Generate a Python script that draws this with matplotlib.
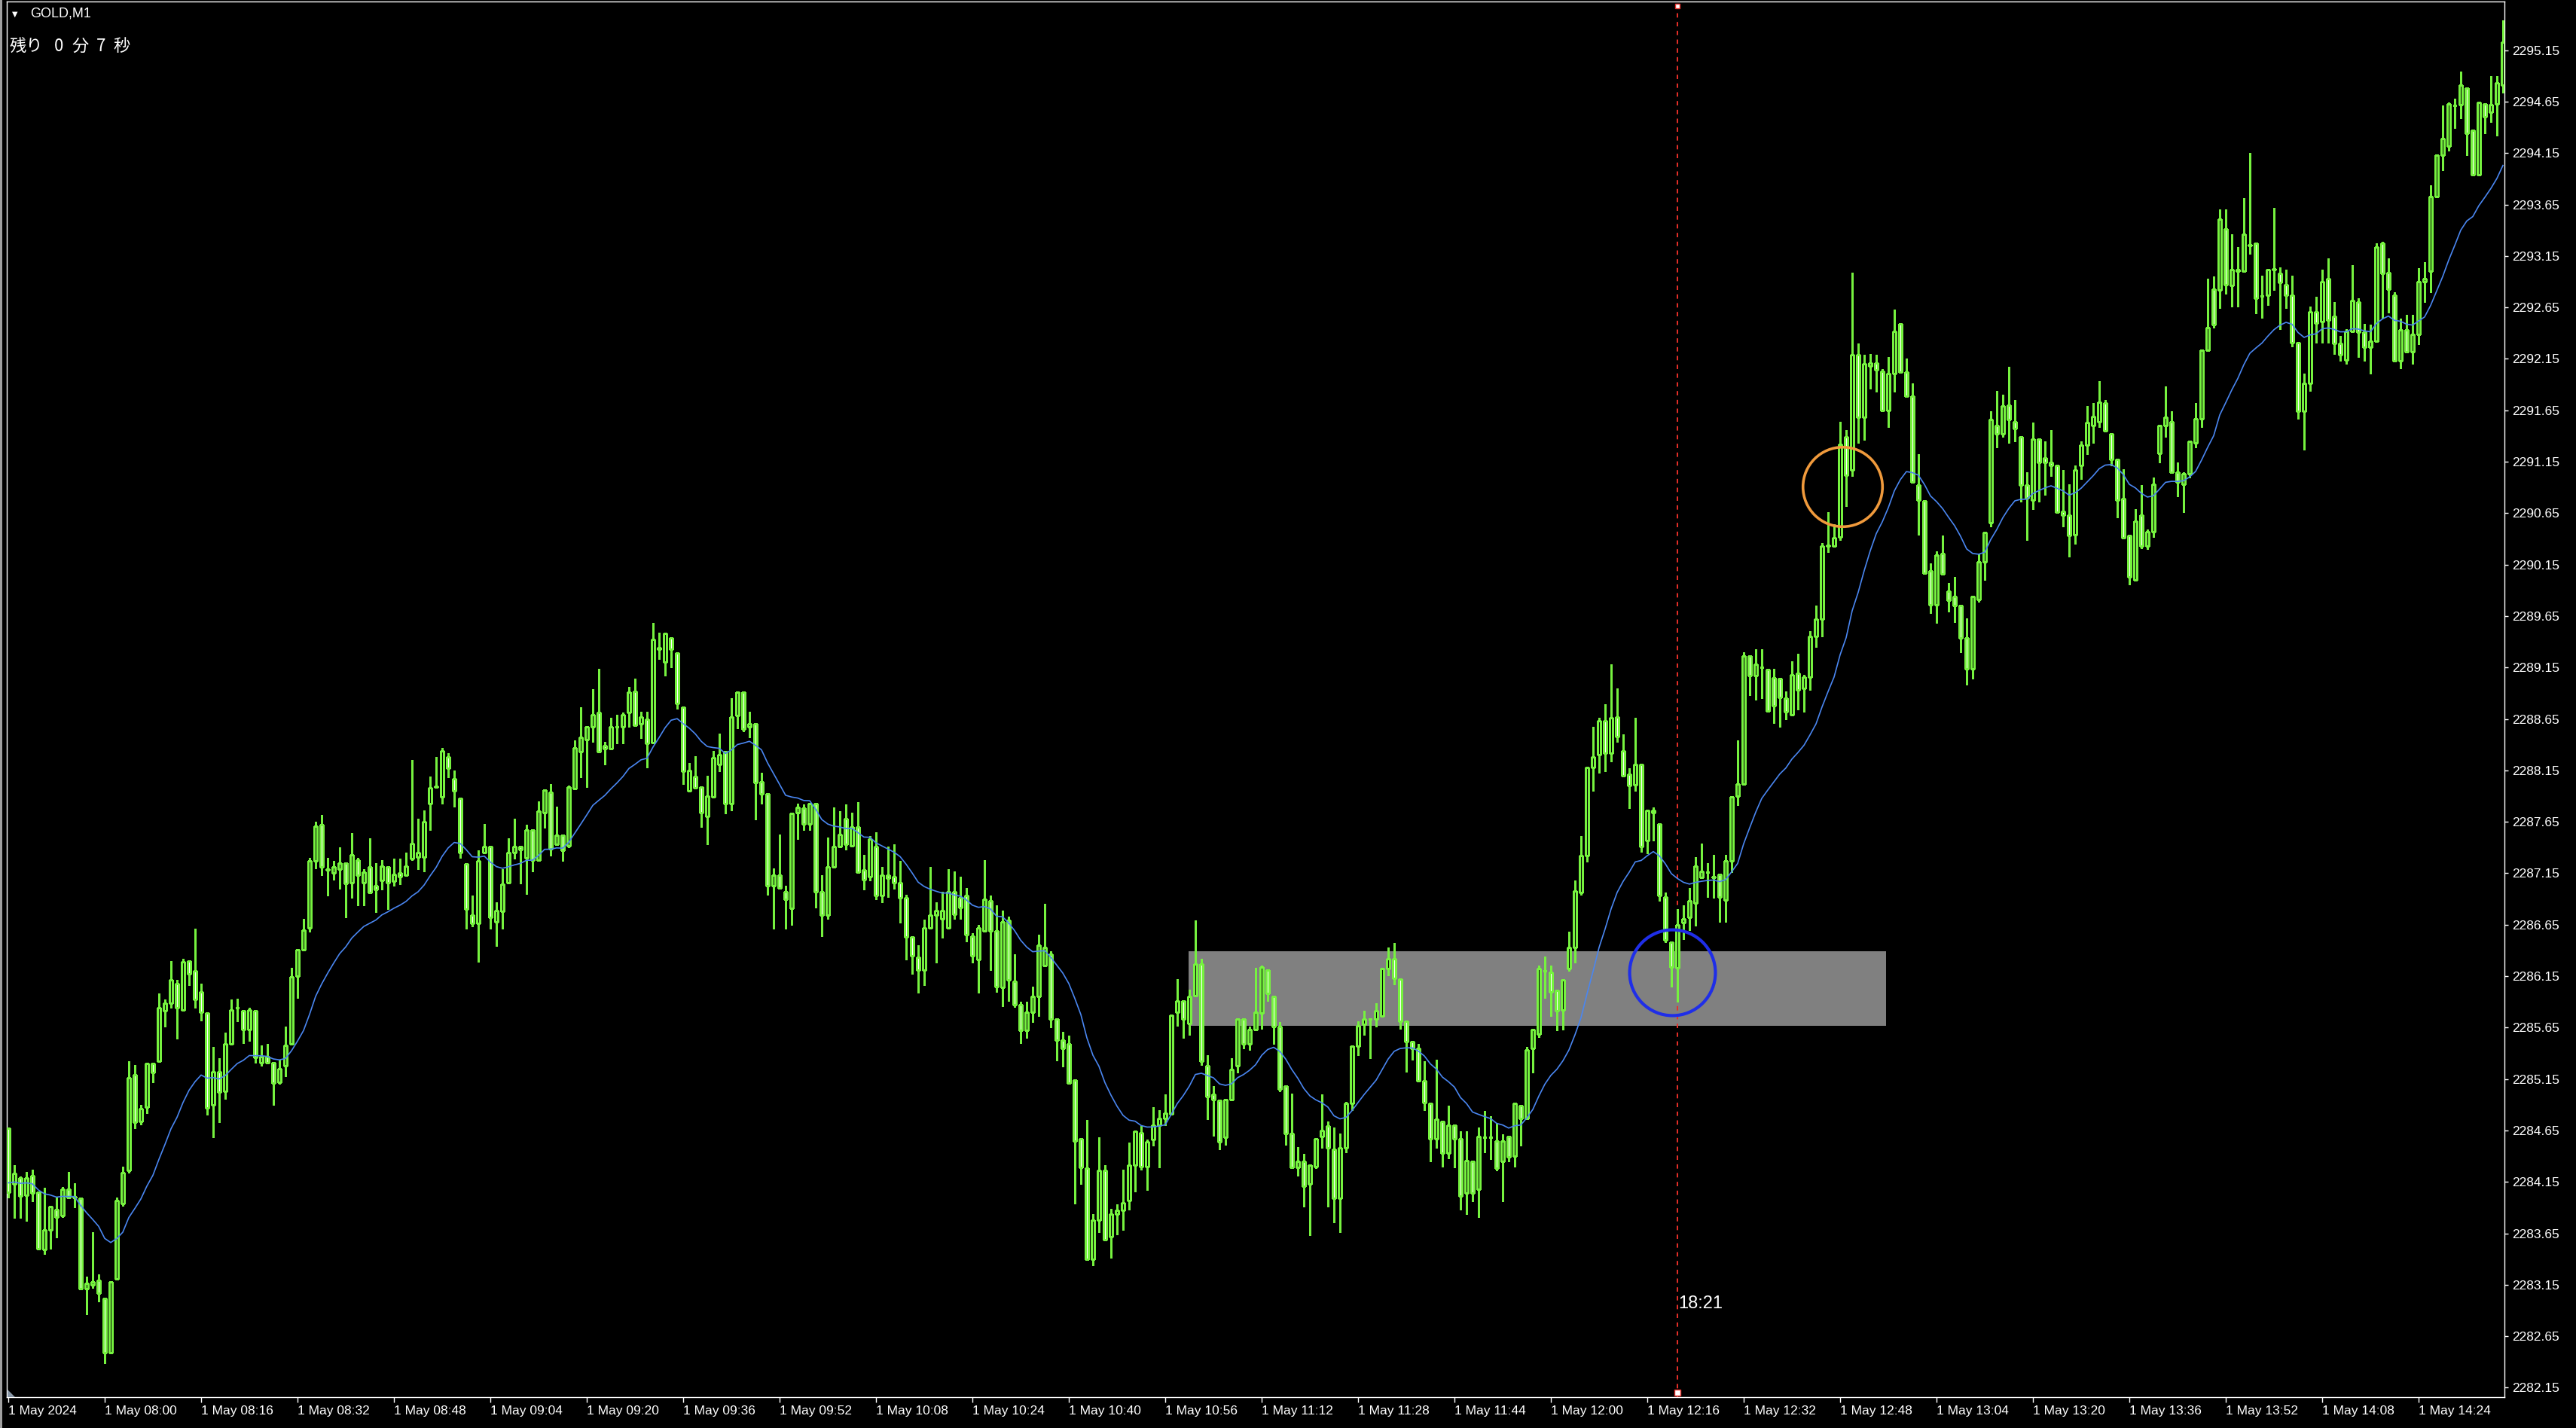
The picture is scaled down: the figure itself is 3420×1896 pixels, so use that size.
import numpy as np
import pandas as pd
import matplotlib
matplotlib.use('Agg')
import matplotlib.pyplot as plt
from matplotlib.patches import Rectangle, Polygon
from matplotlib.transforms import blended_transform_factory

# GOLD M1, one bar per minute from 07:44
opens = [
    2284.67, 2284.13, 2284.19, 2284.02, 2284.21, 2284.05, 2283.49, 2283.68, 2283.88, 2283.82,
    2284.08, 2284.00, 2283.99, 2283.11, 2283.15, 2283.19, 2283.02, 2282.49, 2283.21, 2283.94,
    2284.26, 2285.19, 2284.74, 2284.88, 2285.30, 2285.32, 2285.81, 2285.89, 2286.08, 2285.82,
    2286.30, 2286.20, 2286.00, 2285.79, 2284.90, 2285.22, 2285.03, 2285.49, 2285.84, 2285.81,
    2285.63, 2285.81, 2285.31, 2285.37, 2285.31, 2285.12, 2285.28, 2285.49, 2286.15, 2286.41,
    2286.62, 2287.27, 2287.62, 2287.19, 2287.15, 2287.19, 2287.25, 2287.06, 2287.28, 2287.06,
    2287.21, 2287.03, 2287.08, 2287.21, 2287.07, 2287.15, 2287.13, 2287.29, 2287.31, 2287.31,
    2287.83, 2287.99, 2287.89, 2288.28, 2288.07, 2287.88, 2287.24, 2286.74, 2286.66, 2287.35,
    2287.41, 2286.68, 2286.78, 2287.06, 2287.35, 2287.41, 2287.30, 2287.57, 2287.28, 2287.74,
    2287.94, 2287.43, 2287.52, 2287.42, 2287.97, 2288.33, 2288.45, 2288.57, 2288.71, 2288.39,
    2288.36, 2288.57, 2288.57, 2288.71, 2288.92, 2288.60, 2288.65, 2288.42, 2289.34, 2289.20,
    2289.44, 2289.29, 2288.76, 2287.95, 2288.09, 2287.99, 2287.70, 2287.89, 2288.21, 2288.33,
    2287.83, 2288.68, 2288.91, 2288.57, 2288.60, 2288.04, 2287.92, 2287.03, 2287.13, 2286.97,
    2286.81, 2287.74, 2287.78, 2287.63, 2287.83, 2286.97, 2286.74, 2287.21, 2287.41, 2287.68,
    2287.42, 2287.60, 2287.18, 2287.12, 2287.41, 2286.93, 2287.13, 2287.12, 2287.06, 2286.91,
    2286.53, 2286.33, 2286.21, 2286.62, 2286.74, 2286.71, 2286.62, 2286.97, 2286.91, 2286.93,
    2286.54, 2286.31, 2286.59, 2286.88, 2286.59, 2286.04, 2286.69, 2286.10, 2285.87, 2285.62,
    2285.80, 2285.95, 2286.25, 2286.36, 2285.73, 2285.53, 2285.49, 2285.14, 2284.57, 2284.28,
    2283.40, 2283.78, 2284.26, 2283.62, 2283.84, 2283.87, 2283.97, 2284.31, 2284.63, 2284.30,
    2284.56, 2284.70, 2284.77, 2284.81, 2285.80, 2285.91, 2285.69, 2285.96, 2286.27, 2285.28,
    2285.00, 2284.94, 2284.58, 2284.95, 2285.28, 2285.73, 2285.49, 2285.63, 2285.79, 2286.21,
    2285.95, 2285.66, 2285.08, 2284.62, 2284.29, 2284.35, 2284.13, 2284.30, 2284.59, 2284.69,
    2284.47, 2283.99, 2284.48, 2284.91, 2285.47, 2285.68, 2285.73, 2285.73, 2285.76, 2286.22,
    2286.32, 2286.12, 2285.71, 2285.51, 2285.45, 2285.13, 2284.91, 2284.57, 2284.74, 2284.43,
    2284.70, 2284.57, 2284.04, 2284.35, 2284.08, 2284.58, 2284.58, 2284.55, 2284.35, 2284.59,
    2284.40, 2284.89, 2284.77, 2285.45, 2285.59, 2286.20, 2286.19, 2286.01, 2285.82, 2286.22,
    2286.43, 2286.96, 2287.32, 2288.18, 2288.30, 2288.63, 2288.32, 2288.67, 2288.34, 2288.11,
    2288.01, 2288.21, 2287.47, 2287.76, 2287.63, 2286.92, 2286.48, 2286.23, 2286.67, 2286.72,
    2286.86, 2287.11, 2287.16, 2287.11, 2287.14, 2286.89, 2287.27, 2287.90, 2288.02, 2289.26,
    2289.07, 2289.15, 2289.13, 2289.05, 2289.04, 2288.85, 2288.69, 2289.09, 2288.95, 2289.06,
    2289.45, 2289.62, 2290.33, 2290.33, 2290.42, 2291.39, 2291.07, 2292.19, 2291.58, 2292.08,
    2292.11, 2292.03, 2291.65, 2292.01, 2292.49, 2292.02, 2291.79, 2290.92, 2290.77, 2290.09,
    2289.76, 2290.26, 2289.89, 2289.84, 2289.75, 2289.44, 2289.14, 2289.81, 2290.18, 2290.56,
    2291.50, 2291.42, 2291.70, 2291.54, 2291.39, 2290.92, 2290.78, 2291.37, 2291.19, 2291.14,
    2291.11, 2290.67, 2290.63, 2290.44, 2291.11, 2291.31, 2291.50, 2291.54, 2291.72, 2291.42,
    2291.17, 2290.79, 2290.43, 2290.00, 2290.63, 2290.33, 2290.47, 2291.23, 2291.50, 2291.54,
    2291.05, 2290.93, 2291.03, 2291.33, 2291.57, 2292.23, 2292.83, 2292.82, 2293.41, 2292.86,
    2293.00, 2293.00, 2293.25, 2293.27, 2292.76, 2292.77, 2293.02, 2292.98, 2292.87, 2292.77,
    2292.31, 2291.64, 2291.91, 2292.61, 2292.51, 2292.93, 2292.56, 2292.30, 2292.14, 2292.42,
    2292.70, 2292.41, 2292.26, 2292.32, 2293.27, 2292.99, 2292.77, 2292.13, 2292.43, 2292.22,
    2292.39, 2292.90, 2293.00, 2293.73, 2294.13, 2294.22, 2294.61, 2294.62, 2294.78, 2294.37,
    2293.94, 2294.63, 2294.55, 2294.63, 2294.81,
]
highs = [
    2284.68, 2284.31, 2284.20, 2284.25, 2284.27, 2284.05, 2284.09, 2283.91, 2284.00, 2284.10,
    2284.25, 2284.14, 2284.00, 2283.23, 2283.66, 2283.25, 2283.02, 2283.18, 2284.00, 2284.30,
    2285.32, 2285.29, 2284.90, 2285.30, 2285.30, 2285.98, 2285.92, 2286.30, 2286.11, 2286.32,
    2286.30, 2286.61, 2286.08, 2285.79, 2285.46, 2285.35, 2285.60, 2285.92, 2285.93, 2285.81,
    2285.84, 2285.81, 2285.48, 2285.49, 2285.31, 2285.34, 2285.66, 2286.23, 2286.41, 2286.71,
    2287.30, 2287.65, 2287.72, 2287.30, 2287.27, 2287.40, 2287.25, 2287.54, 2287.30, 2287.19,
    2287.49, 2287.25, 2287.28, 2287.22, 2287.29, 2287.29, 2287.35, 2288.25, 2287.68, 2287.76,
    2288.09, 2288.28, 2288.37, 2288.32, 2288.15, 2287.88, 2287.24, 2286.93, 2287.37, 2287.63,
    2287.41, 2286.87, 2287.19, 2287.49, 2287.68, 2287.41, 2287.62, 2287.57, 2287.85, 2287.96,
    2288.02, 2287.80, 2287.52, 2288.00, 2288.44, 2288.76, 2288.57, 2288.94, 2289.14, 2288.43,
    2288.66, 2288.69, 2288.71, 2288.96, 2289.04, 2288.72, 2288.72, 2289.58, 2289.49, 2289.48,
    2289.44, 2289.30, 2288.76, 2288.22, 2288.29, 2287.99, 2288.10, 2288.34, 2288.51, 2288.33,
    2288.85, 2288.92, 2288.92, 2288.72, 2288.60, 2288.13, 2287.92, 2287.20, 2287.53, 2287.03,
    2287.73, 2287.83, 2287.82, 2287.83, 2287.83, 2287.13, 2287.50, 2287.79, 2287.75, 2287.82,
    2287.74, 2287.84, 2287.33, 2287.51, 2287.55, 2287.21, 2287.41, 2287.43, 2287.27, 2286.94,
    2286.53, 2286.45, 2286.70, 2287.21, 2286.87, 2286.97, 2287.19, 2287.17, 2287.12, 2287.01,
    2286.57, 2286.65, 2287.28, 2286.93, 2286.84, 2286.79, 2286.73, 2286.36, 2285.90, 2285.90,
    2286.05, 2286.55, 2286.85, 2286.39, 2285.73, 2285.61, 2285.57, 2285.14, 2284.57, 2284.75,
    2283.84, 2284.58, 2284.31, 2283.89, 2283.93, 2284.27, 2284.53, 2284.64, 2284.69, 2284.56,
    2284.88, 2284.85, 2285.00, 2285.77, 2286.12, 2285.91, 2286.02, 2286.69, 2286.32, 2285.38,
    2285.08, 2284.94, 2284.95, 2285.35, 2285.74, 2285.74, 2285.66, 2286.23, 2286.25, 2286.21,
    2285.95, 2285.70, 2285.08, 2285.01, 2284.49, 2284.42, 2284.32, 2284.57, 2285.00, 2284.74,
    2284.68, 2284.62, 2284.93, 2285.47, 2285.71, 2285.81, 2285.73, 2285.89, 2286.22, 2286.43,
    2286.47, 2286.12, 2285.71, 2285.51, 2285.49, 2285.32, 2284.91, 2285.34, 2284.74, 2284.89,
    2284.70, 2284.64, 2284.64, 2284.35, 2284.68, 2284.84, 2284.79, 2284.72, 2284.61, 2284.59,
    2284.91, 2284.89, 2285.46, 2285.63, 2286.25, 2286.34, 2286.25, 2286.01, 2286.11, 2286.58,
    2287.08, 2287.51, 2288.18, 2288.57, 2288.66, 2288.79, 2289.18, 2288.95, 2288.50, 2288.17,
    2288.66, 2288.21, 2287.76, 2287.79, 2287.63, 2286.96, 2286.48, 2286.80, 2286.84, 2287.01,
    2287.31, 2287.44, 2287.25, 2287.33, 2287.14, 2287.33, 2287.89, 2288.44, 2289.30, 2289.26,
    2289.33, 2289.33, 2289.13, 2289.14, 2289.04, 2288.92, 2289.21, 2289.28, 2289.08, 2289.50,
    2289.75, 2290.36, 2290.66, 2290.54, 2291.54, 2291.46, 2292.99, 2292.30, 2292.19, 2292.20,
    2292.19, 2292.05, 2292.17, 2292.63, 2292.49, 2292.15, 2291.91, 2291.22, 2290.77, 2290.16,
    2290.28, 2290.43, 2289.97, 2290.03, 2289.75, 2289.63, 2289.84, 2290.26, 2290.46, 2291.64,
    2291.84, 2291.80, 2292.07, 2291.75, 2291.39, 2291.05, 2291.53, 2291.37, 2291.35, 2291.46,
    2291.11, 2291.07, 2290.93, 2291.11, 2291.35, 2291.69, 2291.72, 2291.93, 2291.75, 2291.42,
    2291.17, 2291.08, 2290.43, 2290.69, 2290.92, 2290.49, 2291.00, 2291.50, 2291.88, 2291.64,
    2291.14, 2291.05, 2291.35, 2291.72, 2292.23, 2292.93, 2292.95, 2293.60, 2293.60, 2293.36,
    2293.24, 2293.71, 2294.15, 2293.27, 2292.96, 2293.02, 2293.62, 2293.04, 2293.02, 2292.96,
    2292.31, 2292.01, 2292.66, 2292.75, 2293.02, 2293.13, 2292.70, 2292.37, 2292.44, 2293.06,
    2292.74, 2292.49, 2292.48, 2293.27, 2293.29, 2293.13, 2292.80, 2292.54, 2292.58, 2292.58,
    2293.03, 2293.09, 2293.84, 2294.13, 2294.61, 2294.64, 2294.68, 2294.94, 2294.78, 2294.37,
    2294.65, 2294.63, 2294.90, 2294.90, 2295.44,
]
lows = [
    2284.00, 2283.80, 2283.80, 2283.77, 2283.96, 2283.50, 2283.45, 2283.50, 2283.61, 2283.81,
    2284.00, 2283.90, 2283.11, 2282.86, 2283.12, 2282.99, 2282.39, 2282.49, 2283.20, 2283.92,
    2284.24, 2284.67, 2284.71, 2284.82, 2285.12, 2285.32, 2285.66, 2285.84, 2285.54, 2285.82,
    2286.06, 2285.84, 2285.72, 2284.80, 2284.58, 2284.73, 2284.96, 2285.49, 2285.71, 2285.50,
    2285.52, 2285.31, 2285.28, 2285.31, 2284.90, 2285.10, 2285.18, 2285.49, 2285.94, 2286.40,
    2286.58, 2287.20, 2287.13, 2286.93, 2287.09, 2287.00, 2286.72, 2286.91, 2286.84, 2286.84,
    2286.96, 2286.77, 2286.99, 2286.80, 2287.03, 2287.04, 2287.13, 2287.28, 2287.19, 2287.17,
    2287.57, 2287.98, 2287.83, 2288.08, 2287.80, 2287.30, 2286.61, 2286.63, 2286.29, 2287.35,
    2286.61, 2286.44, 2286.61, 2287.06, 2287.29, 2287.05, 2286.95, 2287.17, 2287.28, 2287.59,
    2287.32, 2287.43, 2287.27, 2287.40, 2287.97, 2288.08, 2287.99, 2288.43, 2288.33, 2288.21,
    2288.36, 2288.41, 2288.41, 2288.57, 2288.59, 2288.46, 2288.18, 2288.42, 2289.23, 2289.07,
    2289.15, 2288.75, 2288.02, 2287.95, 2287.98, 2287.60, 2287.43, 2287.89, 2288.14, 2287.73,
    2287.76, 2288.56, 2288.53, 2288.47, 2287.67, 2287.83, 2286.94, 2286.61, 2287.01, 2286.61,
    2286.65, 2287.48, 2287.57, 2287.57, 2286.82, 2286.54, 2286.71, 2287.21, 2287.41, 2287.38,
    2287.42, 2287.16, 2286.99, 2287.08, 2286.90, 2286.87, 2286.92, 2287.00, 2286.67, 2286.31,
    2286.17, 2285.99, 2286.06, 2286.62, 2286.28, 2286.52, 2286.62, 2286.71, 2286.71, 2286.49,
    2286.28, 2285.99, 2286.59, 2286.21, 2286.00, 2285.86, 2285.91, 2285.85, 2285.50, 2285.55,
    2285.70, 2285.76, 2286.25, 2285.65, 2285.33, 2285.27, 2285.11, 2283.94, 2284.13, 2283.40,
    2283.34, 2283.66, 2283.59, 2283.41, 2283.64, 2283.68, 2283.88, 2284.06, 2284.27, 2284.07,
    2284.50, 2284.29, 2284.70, 2284.80, 2285.67, 2285.55, 2285.58, 2285.95, 2285.29, 2284.76,
    2284.60, 2284.47, 2284.51, 2284.95, 2285.21, 2285.45, 2285.43, 2285.63, 2285.64, 2285.91,
    2285.49, 2285.03, 2284.51, 2284.29, 2284.21, 2283.91, 2283.63, 2284.28, 2284.48, 2283.91,
    2283.76, 2283.66, 2284.44, 2284.85, 2285.38, 2285.58, 2285.35, 2285.66, 2285.76, 2286.16,
    2286.07, 2285.64, 2285.22, 2285.34, 2285.13, 2284.85, 2284.35, 2284.48, 2284.30, 2284.38,
    2284.29, 2283.88, 2283.84, 2283.96, 2283.81, 2284.44, 2284.37, 2284.26, 2283.96, 2284.35,
    2284.30, 2284.50, 2284.77, 2285.21, 2285.56, 2285.94, 2285.76, 2285.62, 2285.63, 2286.20,
    2286.28, 2286.94, 2287.26, 2287.95, 2288.13, 2288.14, 2288.24, 2288.43, 2288.10, 2287.78,
    2287.95, 2287.36, 2287.34, 2287.47, 2286.88, 2286.48, 2286.05, 2285.90, 2286.51, 2286.60,
    2286.64, 2287.11, 2286.92, 2286.91, 2286.68, 2286.68, 2287.16, 2287.81, 2288.02, 2288.88,
    2288.84, 2288.85, 2288.73, 2288.61, 2288.57, 2288.65, 2288.69, 2288.74, 2288.72, 2288.93,
    2289.35, 2289.45, 2290.27, 2290.33, 2290.39, 2290.72, 2291.01, 2291.33, 2291.36, 2291.86,
    2291.83, 2291.65, 2291.49, 2291.83, 2292.02, 2291.79, 2290.95, 2290.44, 2290.07, 2289.68,
    2289.58, 2290.06, 2289.69, 2289.59, 2289.30, 2288.98, 2289.04, 2289.79, 2290.00, 2290.52,
    2291.29, 2291.39, 2291.33, 2291.35, 2290.76, 2290.39, 2290.69, 2290.76, 2290.83, 2291.01,
    2290.66, 2290.52, 2290.23, 2290.35, 2290.98, 2291.22, 2291.33, 2291.49, 2291.45, 2291.11,
    2290.61, 2290.41, 2289.96, 2290.00, 2290.31, 2290.30, 2290.42, 2291.14, 2291.39, 2291.04,
    2290.81, 2290.66, 2291.00, 2291.29, 2291.49, 2292.23, 2292.45, 2292.64, 2292.78, 2292.66,
    2292.66, 2293.00, 2293.17, 2292.59, 2292.55, 2292.67, 2292.82, 2292.44, 2292.64, 2292.27,
    2291.57, 2291.27, 2291.84, 2292.31, 2292.31, 2292.31, 2292.20, 2292.13, 2292.10, 2292.42,
    2292.17, 2292.13, 2292.01, 2292.32, 2292.55, 2292.60, 2292.13, 2292.06, 2292.22, 2292.10,
    2292.29, 2292.70, 2292.80, 2293.73, 2293.98, 2294.17, 2294.39, 2294.49, 2294.13, 2293.94,
    2293.93, 2294.34, 2294.45, 2294.32, 2294.74,
]
closes = [
    2284.05, 2284.23, 2284.01, 2284.19, 2284.04, 2283.50, 2283.68, 2283.91, 2283.81, 2284.08,
    2284.00, 2284.00, 2283.11, 2283.16, 2283.18, 2283.07, 2282.49, 2283.18, 2283.97, 2284.24,
    2285.16, 2284.73, 2284.86, 2285.30, 2285.21, 2285.84, 2285.89, 2286.11, 2285.84, 2286.29,
    2286.17, 2285.92, 2285.80, 2284.87, 2285.22, 2285.02, 2285.49, 2285.82, 2285.84, 2285.63,
    2285.82, 2285.36, 2285.37, 2285.31, 2285.11, 2285.25, 2285.48, 2286.14, 2286.41, 2286.60,
    2287.27, 2287.61, 2287.21, 2287.18, 2287.21, 2287.25, 2287.05, 2287.33, 2287.13, 2287.16,
    2286.96, 2286.99, 2287.22, 2287.06, 2287.14, 2287.12, 2287.22, 2287.44, 2287.35, 2287.65,
    2287.98, 2287.99, 2288.34, 2288.17, 2287.95, 2287.35, 2286.80, 2286.66, 2287.27, 2287.41,
    2286.72, 2286.79, 2287.04, 2287.35, 2287.41, 2287.38, 2287.57, 2287.28, 2287.75, 2287.96,
    2287.39, 2287.52, 2287.37, 2287.99, 2288.37, 2288.47, 2288.57, 2288.69, 2288.33, 2288.36,
    2288.57, 2288.57, 2288.69, 2288.91, 2288.59, 2288.67, 2288.41, 2289.42, 2289.33, 2289.48,
    2289.33, 2288.80, 2288.14, 2288.15, 2287.98, 2287.74, 2287.90, 2288.27, 2288.30, 2287.83,
    2288.67, 2288.91, 2288.55, 2288.60, 2288.03, 2287.92, 2287.03, 2287.13, 2287.01, 2286.90,
    2287.73, 2287.79, 2287.63, 2287.83, 2286.97, 2286.74, 2287.21, 2287.41, 2287.53, 2287.43,
    2287.60, 2287.16, 2287.09, 2287.48, 2286.93, 2287.13, 2287.10, 2287.06, 2286.91, 2286.53,
    2286.35, 2286.21, 2286.62, 2286.74, 2286.79, 2286.79, 2286.97, 2286.75, 2286.82, 2286.55,
    2286.35, 2286.62, 2286.90, 2286.59, 2286.05, 2286.68, 2286.11, 2285.87, 2285.62, 2285.80,
    2285.95, 2286.45, 2286.43, 2285.73, 2285.53, 2285.45, 2285.11, 2284.55, 2284.29, 2283.40,
    2283.78, 2284.26, 2283.59, 2283.84, 2283.87, 2283.95, 2284.31, 2284.64, 2284.30, 2284.54,
    2284.70, 2284.77, 2284.82, 2285.77, 2285.91, 2285.73, 2285.95, 2286.27, 2285.32, 2284.98,
    2284.95, 2284.54, 2284.95, 2285.24, 2285.73, 2285.49, 2285.63, 2285.80, 2286.24, 2285.98,
    2285.66, 2285.05, 2284.62, 2284.29, 2284.35, 2284.11, 2284.31, 2284.57, 2284.65, 2284.48,
    2283.99, 2284.48, 2284.91, 2285.47, 2285.67, 2285.73, 2285.73, 2285.81, 2286.22, 2286.32,
    2286.13, 2285.71, 2285.51, 2285.45, 2285.13, 2284.92, 2284.57, 2284.76, 2284.43, 2284.70,
    2284.57, 2284.01, 2284.36, 2284.04, 2284.59, 2284.58, 2284.58, 2284.28, 2284.55, 2284.39,
    2284.91, 2284.77, 2285.43, 2285.63, 2286.22, 2286.20, 2286.00, 2285.81, 2286.11, 2286.43,
    2286.98, 2287.32, 2288.18, 2288.28, 2288.63, 2288.32, 2288.66, 2288.48, 2288.10, 2288.00,
    2288.21, 2287.41, 2287.76, 2287.74, 2286.93, 2286.50, 2286.24, 2286.65, 2286.71, 2286.88,
    2287.22, 2287.17, 2287.16, 2287.12, 2286.92, 2287.27, 2287.89, 2288.02, 2289.26, 2289.07,
    2289.18, 2289.15, 2288.73, 2288.78, 2288.86, 2288.72, 2289.08, 2288.93, 2289.06, 2289.45,
    2289.62, 2290.33, 2290.33, 2290.41, 2291.32, 2291.02, 2292.19, 2291.58, 2292.10, 2292.11,
    2292.04, 2291.65, 2292.01, 2292.42, 2292.02, 2291.79, 2290.95, 2290.78, 2290.07, 2289.76,
    2290.24, 2290.06, 2289.80, 2289.75, 2289.44, 2289.14, 2289.84, 2290.18, 2290.46, 2291.56,
    2291.42, 2291.69, 2291.56, 2291.47, 2290.92, 2290.80, 2291.37, 2291.14, 2291.14, 2291.11,
    2290.66, 2290.63, 2290.43, 2291.07, 2291.31, 2291.53, 2291.59, 2291.73, 2291.45, 2291.17,
    2290.78, 2290.41, 2290.03, 2290.57, 2290.33, 2290.47, 2290.93, 2291.50, 2291.58, 2291.05,
    2290.95, 2291.03, 2291.35, 2291.57, 2292.23, 2292.45, 2292.48, 2293.51, 2292.87, 2293.02,
    2293.02, 2293.36, 2293.26, 2292.74, 2292.76, 2293.02, 2293.02, 2292.89, 2292.77, 2292.31,
    2291.64, 2291.91, 2292.61, 2292.50, 2292.90, 2292.53, 2292.30, 2292.19, 2292.42, 2292.72,
    2292.41, 2292.26, 2292.32, 2293.24, 2292.98, 2292.83, 2292.13, 2292.43, 2292.22, 2292.39,
    2292.90, 2292.93, 2293.73, 2294.13, 2294.29, 2294.63, 2294.61, 2294.81, 2294.34, 2293.94,
    2294.64, 2294.50, 2294.62, 2294.83, 2295.23,
]

first_bar = '2024-05-01 07:44'
ma_span = 20
ma_first = 2284.15          # MA level at the left edge
price_ticks = np.arange(2282.15, 2295.16, 0.5)

zone_low, zone_high = 2285.67, 2286.39
zone_left, zone_right = 195.9, 311.6     # in bars
cursor_bar = 277
cursor_text = '18:21'
blue_ring = (276.1, 2286.19)
orange_ring = (304.4, 2290.91)

# countdown pieces and their left pixel positions
countdown = ['残り', '0', '分', '7', '秒']
countdown_px = [12, 72, 95, 128, 150]

green = '#76f23f'
W, H = 3420, 1896

plt.rcParams['font.family'] = ['Liberation Sans', 'Noto Sans CJK JP', 'DejaVu Sans']

o = np.array(opens); h = np.array(highs); l = np.array(lows); c = np.array(closes)
x = np.arange(len(c))
times = pd.date_range(first_bar, periods=len(c), freq='min')

fig = plt.figure(figsize=(W / 100, H / 100), dpi=100, facecolor='black')
ax = fig.add_axes([9 / W, 41 / H, 3316 / W, 1853 / H])
ax.set_facecolor('black')
ax.set_xlim(-0.25, 414.25)
ax.set_ylim(2282.058, 2295.623)

# zone + cursor line
ax.add_patch(Rectangle((zone_left, zone_low), zone_right - zone_left, zone_high - zone_low,
                       facecolor='#808080', lw=0, zorder=1))
ax.axvline(cursor_bar, color='#e8302a', lw=1.4, ls=(0, (3, 3)), zorder=2)

# candles
up = c >= o
ax.vlines(x, l, h, color=green, lw=1.0, zorder=3, antialiased=False)
ax.bar(x, np.maximum(np.abs(c - o), 0.004), bottom=np.minimum(o, c), width=0.5,
       color=np.where(up, 'black', 'white'), edgecolor=green, linewidth=1.0,
       zorder=4, antialiased=False)

# moving average
ma = pd.Series(np.r_[ma_first, c]).ewm(span=ma_span, adjust=False).mean().to_numpy()[1:]
ax.plot(x, ma, color='#4a86f0', lw=1.2, zorder=5)

# circles
ax.plot(*blue_ring, marker='o', ms=82, mfc='none', mec='#1f2ee8', mew=3.0, zorder=6)
ax.plot(*orange_ring, marker='o', ms=76, mfc='none', mec='#f09a3c', mew=2.6, zorder=6)

tr = blended_transform_factory(ax.transData, ax.transAxes)
ax.text(cursor_bar + 0.1, 0.067, cursor_text, transform=tr, color='white', fontsize=17,
        ha='left', va='center')
ax.plot([cursor_bar], [0.003], transform=tr, marker='s', ms=6, mfc='white', mec='#e8302a',
        mew=1, clip_on=False, zorder=7)
ax.plot([cursor_bar], [0.997], transform=tr, marker='s', ms=4, mfc='white', mec='#e8302a',
        mew=1, clip_on=False, zorder=7)

# axes look
for s in ax.spines.values():
    s.set_color('white')
    s.set_linewidth(1.0)
ax.yaxis.tick_right()
ax.set_yticks(price_ticks)
ax.set_yticklabels([f'{v:.2f}' for v in price_ticks])
ax.tick_params(axis='y', colors='white', length=3.6, width=1, pad=3.6, labelsize=12.5)

tick_idx = x[::16]
tick_lab = ['1 May 2024' if i == 0 else f'1 May {times[i]:%H:%M}' for i in tick_idx]
ax.set_xticks(tick_idx)
ax.set_xticklabels(tick_lab)
ax.tick_params(axis='x', colors='white', length=5, width=1, pad=3, labelsize=12.5)
for t in ax.get_xticklabels():
    t.set_ha('left')

# header text
fig.text(16 / W, 1 - 19 / H, '▼', color='white', fontsize=7, va='center', family='DejaVu Sans')
fig.text(40 / W, 1 - 18 / H, 'GOLD,M1', color='white', fontsize=13, va='center')
for txt, px in zip(countdown, countdown_px):
    fig.text(px / W, 1 - 61 / H, txt, color='white', fontsize=16, va='center',
             family=['Noto Sans CJK JP', 'DejaVu Sans'])

# window edge + shift marker
fig.patches.append(Rectangle((0, 0), 3 / W, 1, transform=fig.transFigure,
                             facecolor='#a0a0a0', lw=0))
fig.patches.append(Polygon([(10 / W, 41 / H), (10 / W, 51 / H), (20 / W, 41 / H)],
                           closed=True, transform=fig.transFigure, facecolor='#8a98a8', lw=0))

fig.savefig('out.png', dpi=100, facecolor='black')
